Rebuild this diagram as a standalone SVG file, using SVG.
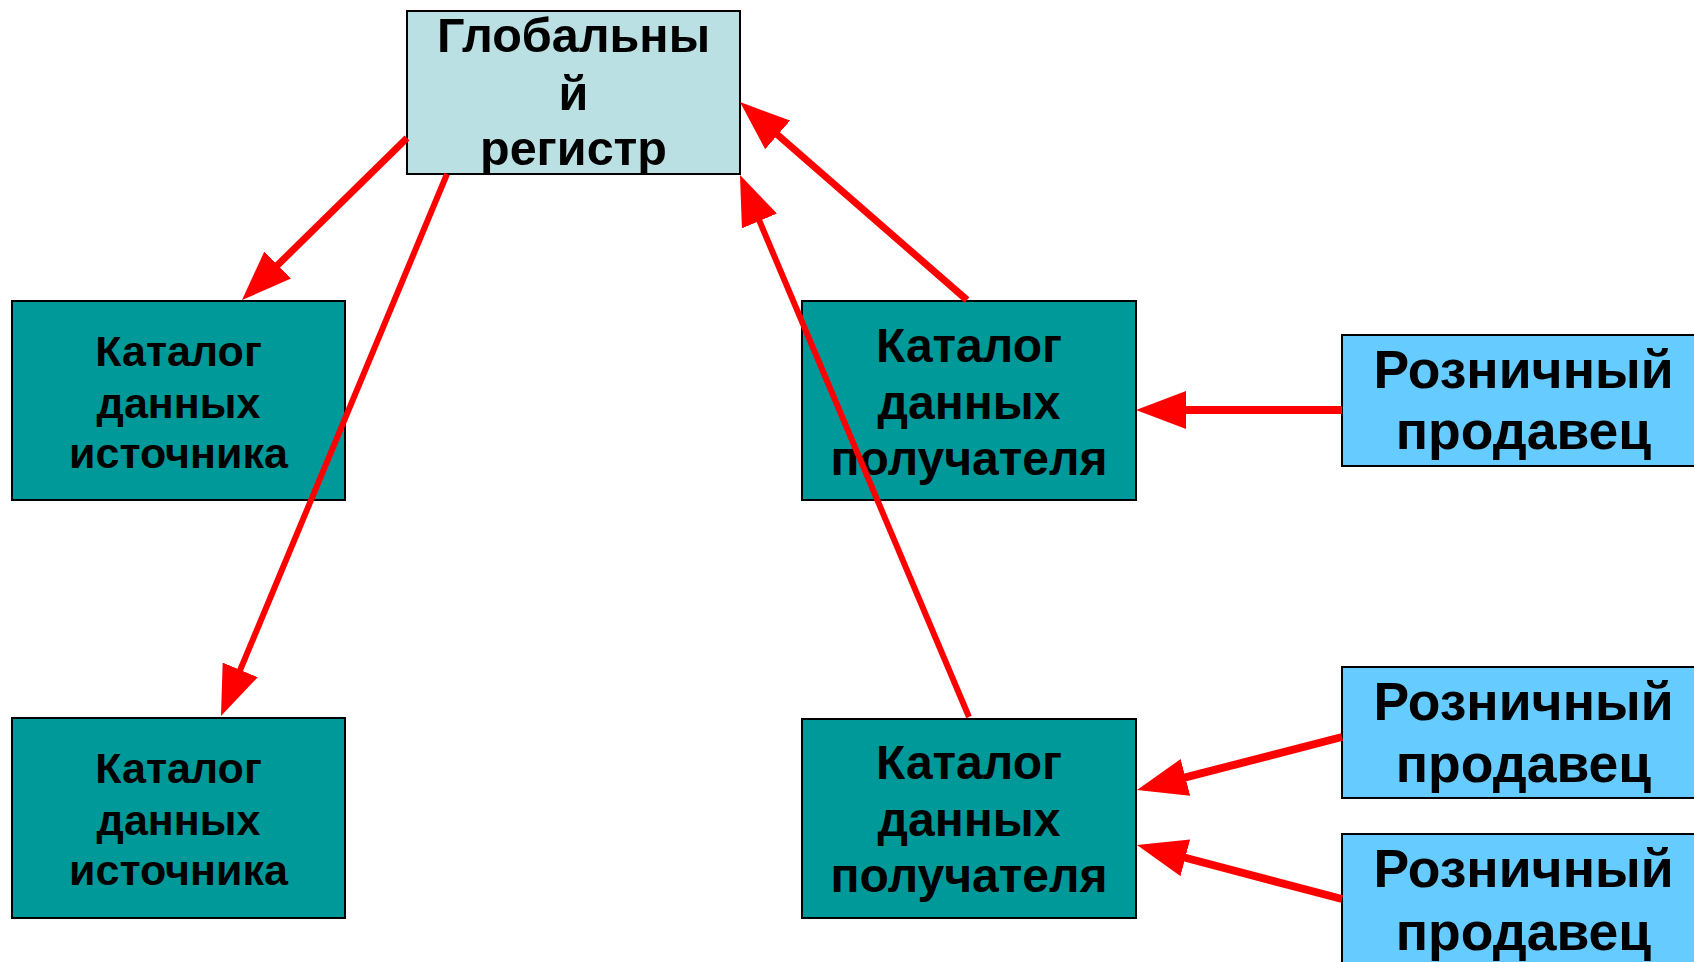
<svg xmlns="http://www.w3.org/2000/svg" width="1694" height="962" viewBox="0 0 1694 962">
<defs>
<style>
.box{stroke:#000;stroke-width:2}
.reg{fill:#BBE0E3}
.cat{fill:#009999}
.ret{fill:#66CCFF}
text{font-family:"Liberation Sans",Arial,sans-serif;font-weight:bold;fill:#000;text-anchor:middle}
.t-reg{font-size:48.5px}
.t-src{font-size:43px}
.t-dst{font-size:48px}
.t-ret{font-size:53.5px}
.conn line{stroke:#FF0000;fill:none;marker-end:url(#ah)}
</style>
<marker id="ah" markerUnits="userSpaceOnUse" markerWidth="50" markerHeight="38" viewBox="0 0 50 38" refX="5" refY="19" orient="auto">
<path d="M0,0 L50,19 L0,38 Z" fill="#FF0000"/>
</marker>
</defs>
<rect width="1694" height="962" fill="#FFFFFF"/>
<g id="global-registry">
<rect class="box reg" x="407" y="11" width="333" height="163"/>
<text class="t-reg" x="573.5" y="52">Глобальны</text>
<text class="t-reg" x="573.5" y="110">й</text>
<text class="t-reg" x="573.5" y="165">регистр</text>
</g>
<g id="source-catalog-1">
<rect class="box cat" x="12" y="301" width="333" height="199"/>
<text class="t-src" x="178.5" y="366">Каталог</text>
<text class="t-src" x="178.5" y="418">данных</text>
<text class="t-src" x="178.5" y="468">источника</text>
</g>
<g id="source-catalog-2">
<rect class="box cat" x="12" y="718" width="333" height="200"/>
<text class="t-src" x="178.5" y="783">Каталог</text>
<text class="t-src" x="178.5" y="835">данных</text>
<text class="t-src" x="178.5" y="885">источника</text>
</g>
<g id="recipient-catalog-1">
<rect class="box cat" x="802" y="301" width="334" height="199"/>
<text class="t-dst" x="969" y="362">Каталог</text>
<text class="t-dst" x="969" y="419">данных</text>
<text class="t-dst" x="969" y="475">получателя</text>
</g>
<g id="recipient-catalog-2">
<rect class="box cat" x="802" y="719" width="334" height="199"/>
<text class="t-dst" x="969" y="779">Каталог</text>
<text class="t-dst" x="969" y="836">данных</text>
<text class="t-dst" x="969" y="892">получателя</text>
</g>
<g id="retailer-1">
<rect class="box ret" x="1342" y="335" width="370" height="131"/>
<text class="t-ret" x="1523.5" y="388">Розничный</text>
<text class="t-ret" x="1523.5" y="449">продавец</text>
</g>
<g id="retailer-2">
<rect class="box ret" x="1342" y="667" width="370" height="131"/>
<text class="t-ret" x="1523.5" y="720">Розничный</text>
<text class="t-ret" x="1523.5" y="782">продавец</text>
</g>
<g id="retailer-3">
<rect class="box ret" x="1342" y="834" width="370" height="140"/>
<text class="t-ret" x="1523.5" y="887">Розничный</text>
<text class="t-ret" x="1523.5" y="950">продавец</text>
</g>
<g id="connectors" class="conn">
<line x1="407" y1="138" x2="274.1" y2="268.5" stroke-width="7"/>
<line x1="447" y1="174" x2="238.3" y2="674.5" stroke-width="6"/>
<line x1="967" y1="300" x2="773.9" y2="131.6" stroke-width="7"/>
<line x1="969" y1="717" x2="757.5" y2="216.4" stroke-width="6"/>
<line x1="1342" y1="410" x2="1181" y2="410" stroke-width="8"/>
<line x1="1342" y1="737" x2="1180.6" y2="778.7" stroke-width="8"/>
<line x1="1342" y1="899" x2="1180.5" y2="856.5" stroke-width="8"/>
</g>
</svg>
